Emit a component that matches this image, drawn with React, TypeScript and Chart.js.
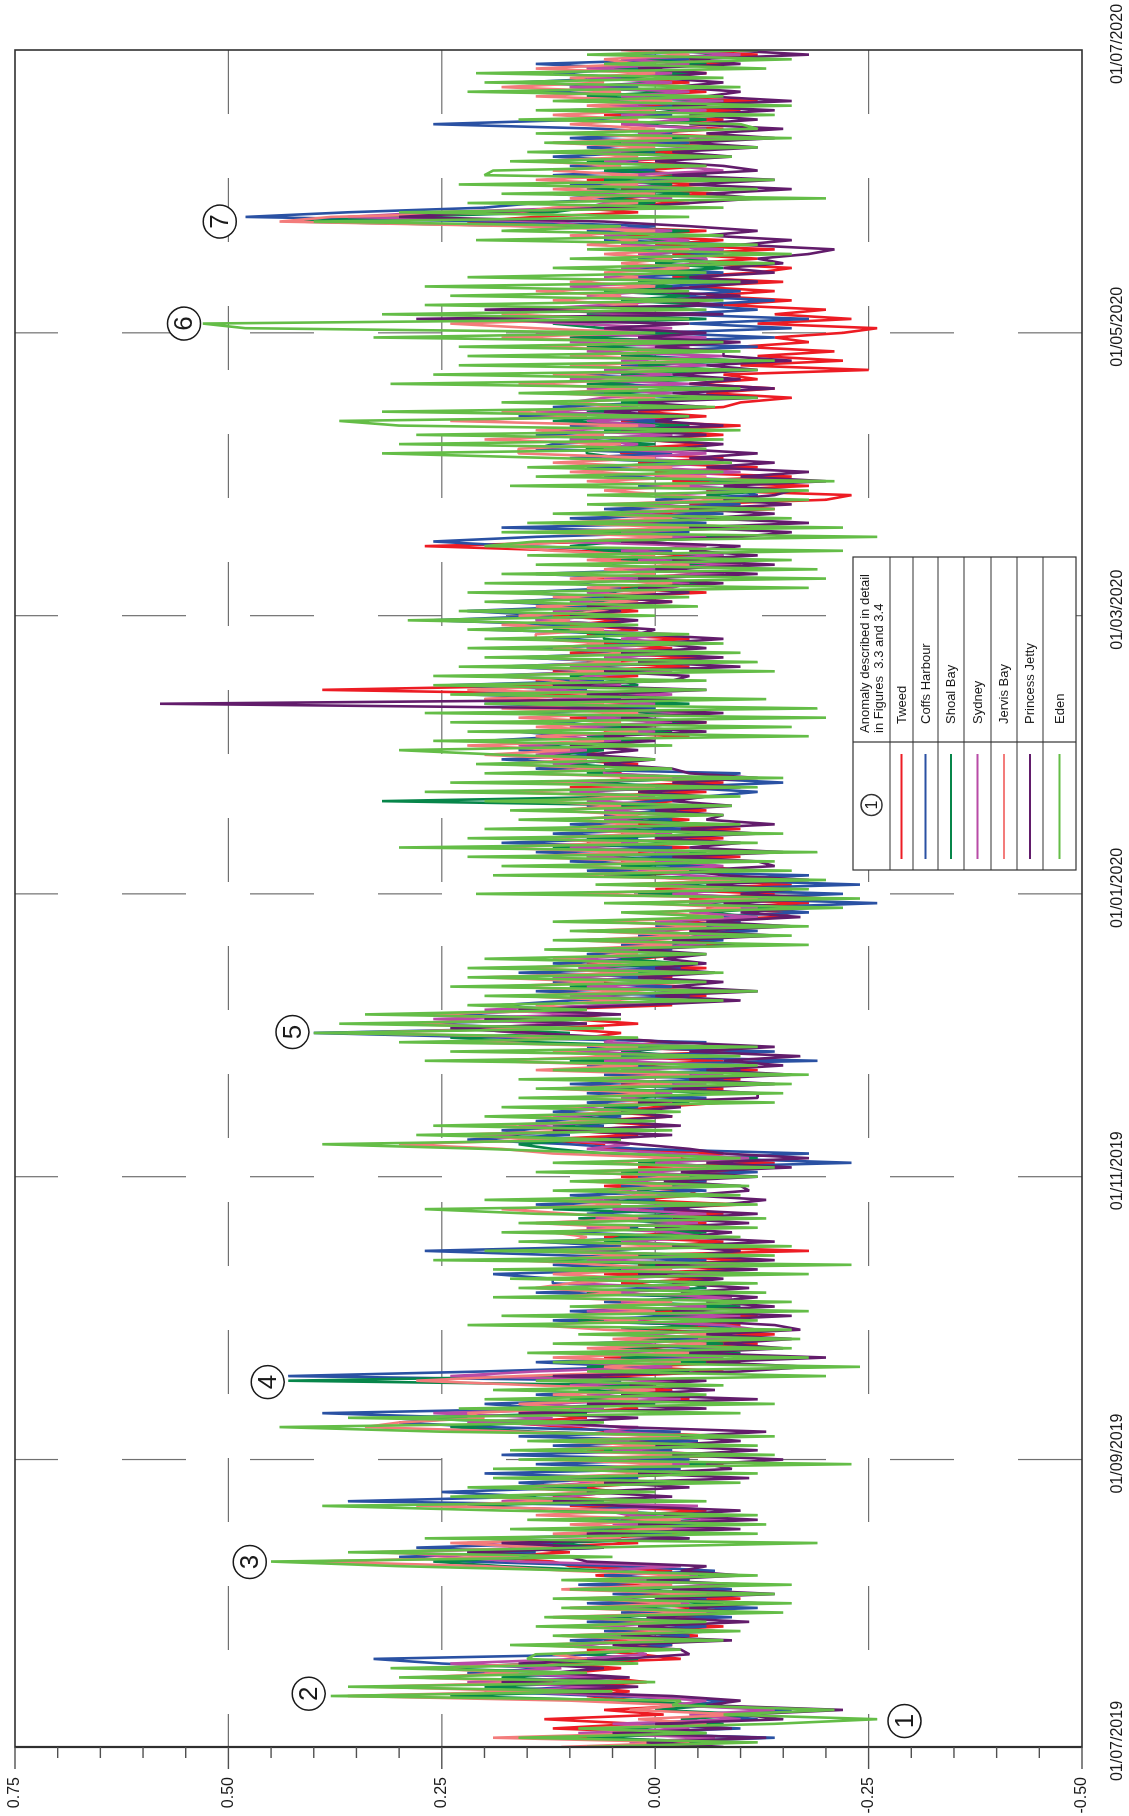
import React, { useEffect, useRef } from 'react';
import { Chart, registerables } from 'chart.js';

Chart.register(...registerables);

const FONT = "'Liberation Sans', Arial, Helvetica, sans-serif";

// x axis: days since 01/07/2019
const dateTickDays = [0, 62, 123, 184, 244, 305, 366];
const dateTickLabels = ['01/07/2019', '01/09/2019', '01/11/2019', '01/01/2020', '01/03/2020', '01/05/2020', '01/07/2020'];
const gridDays = [62, 123, 184, 244, 305];

// y axis: sea level anomaly in cm, labelled in metres
const valueTicks = [75, 50, 25, 0, -25, -50];
const valueTickLabels = ['0.75', '0.50', '0.25', '0.00', '-0.25', '-0.50'];
const gridValues = [50, 25, 0, -25];

const seriesNames = ['Tweed', 'Coffs Harbour', 'Shoal Bay', 'Sydney', 'Jervis Bay', 'Princess Jetty', 'Eden'];
const seriesColors = ['#ed1c24', '#2a51a3', '#07864a', '#b84ba6', '#f37c7b', '#621c6b', '#64bd47'];

// daily values (cm), day 0 .. 366
const tweed = [
  4,-8,10,-3,12,2,13,-1,6,-5, 2,8,3,9,1,6,10,4,12,-3, 2,8,-2,6,-5,3,-8,5,-6,2, -6,4,-10,3,-8,5,-4,7,-2,10,
  12,20,10,16,2,8,-4,6,-6,4, 3,-6,10,2,12,4,9,0,6,-4, 6,-8,4,-10,8,-6,3,-9,5,10, 18,8,14,2,6,-4,4,-2,6,10,
  4,-8,2,-10,6,-6,3,-12,0,-14, 2,-10,6,-12,1,-8,4,-6,6,-4, 4,-6,6,-10,2,-12,5,-18,0,-8, 6,-4,8,-6,4,-8,2,-10,3,-5,
  -4,6,-6,4,-10,2,-14,0,-8,6, 6,14,2,10,-1,8,-2,6,0,-8, -4,6,-8,4,-10,2,-12,4,-8,6, -10,6,-2,8,4,12,2,10,6,14,
  -2,8,-6,6,-4,10,-2,4,-6,8, 2,-4,6,-10,4,-8,2,-12,-2,-14, -16,-6,-18,-4,-14,0,-16,-6,4,-10, -6,4,-10,6,-4,8,-8,4,-10,2,
  -4,6,-6,4,-2,8,-6,10,-8,4, 4,10,2,12,6,10,2,8,-4,6, 4,-6,10,-4,14,-2,20,6,39,10, 14,2,12,-4,8,-6,10,-2,6,-4,
  8,2,10,4,12,2,8,-2,6,-6, 6,-6,8,-8,4,-10,6,-6,10,27, 6,-8,10,-12,4,-10,2,-14,-4,-20, -23,-6,-18,-2,-16,0,-12,2,-8,4,
  4,-6,2,-8,0,-10,4,-6,2,-8, -10,-16,-6,-14,-4,-12,-8,-25,-10,-22, -12,-21,-10,-18,-14,-22,-26,-12,-23,-14, -20,-8,-16,-6,-14,-4,-15,-2,-12,-16,
  -4,-12,-2,-14,0,-8,4,-6,10,22, 14,2,10,-4,6,-8,4,-6,8,-4, 2,-6,6,-8,0,-10,4,-12,2,-8, 4,-8,6,-10,2,-12,4,-6,8,-4,
  6,-6,8,-8,0,-12,-2,
];
const coffsHarbour = [
  -6,
  2,-14,6,-10,3,-12,-6,-16,-3,-9, 6,20,9,14,7,22,12,25,33,6, 5,-2,10,-4,6,-6,8,-9,4,-12, 8,-6,5,-9,9,-4,6,-7,4,22,
  30,14,28,10,20,-2,10,-6,9,-8, 12,-2,36,14,25,8,16,2,20,-3, 14,-4,18,-2,12,-5,16,-3,20,30, 22,39,12,20,4,14,2,12,4,43,
  20,2,14,-4,10,-8,8,-5,4,-10, -6,12,-4,10,-9,6,-7,14,-2,12, 12,19,0,12,-6,10,27,4,14,-4, 10,2,12,-2,8,-4,14,0,10,-6,
  4,-6,2,-12,-2,-23,-6,-18,2,10, 22,10,18,6,14,4,12,2,8,-6, 8,-6,10,-8,6,-10,8,-19,4,-14, 8,-6,18,40,14,28,10,24,12,18,
  10,-4,14,-2,12,0,16,-3,12,2, 8,-2,4,-8,2,-12,0,-10,-4,-18, -10,-26,-8,-22,-4,-24,-6,-18,8,-6, 10,-4,14,-2,18,2,12,-4,10,-2,
  6,-2,8,0,-6,-12,-2,-15,-4,-10, 14,8,18,6,16,12,20,10,16,4, 12,2,16,0,20,4,22,8,24,6, 20,6,18,4,16,2,14,0,12,2,
  20,10,26,12,22,8,18,6,16,4, 10,0,14,-2,8,-4,10,-2,16,26, 14,-4,18,-6,10,-8,6,-10,0,-12, -10,2,-12,6,-8,8,-4,10,-2,14,
  12,2,14,0,10,-2,16,4,12,0, -4,8,-8,6,-2,10,-6,4,-10,2, 2,-12,6,-14,0,-16,-4,-18,-2,-12, -4,-14,-2,-10,0,-12,4,-8,2,-10,
  2,-8,4,-10,6,-4,8,0,18,48, 36,20,14,4,12,-2,10,-4,12,0, 10,2,12,0,8,-4,10,-2,6,26, 8,-2,10,-6,8,-4,14,2,16,4,
  12,2,14,-4,4,-10,
];
const shoalBay = [
  5,-9,8,-6,4,-8,-3,-12,0,-7, 4,24,8,20,6,18,10,26,14,2, 8,1,12,-2,7,-5,9,-3,6,-8, 3,-8,6,-5,2,-10,4,-6,5,18,
  26,12,22,6,12,-4,6,-8,4,-5, -4,8,22,6,18,3,14,-2,10,-6, 8,-6,10,-7,6,-8,9,-4,14,24, 15,30,8,18,0,10,-2,9,2,43,
  10,-4,8,-6,4,-10,6,-8,2,-9, 4,-5,9,-6,5,-10,3,-5,8,-6, -4,8,-8,10,-4,14,-2,8,-6,6, 4,-6,6,-3,9,-5,12,-4,6,2,
  2,-4,6,-8,4,-10,2,-12,6,12, 16,8,20,4,12,2,10,0,6,-4, 4,-8,6,-4,8,-6,4,-8,10,-4, 4,-4,14,24,10,22,8,20,6,16,
  6,-2,8,-5,10,-2,12,0,8,-3, 4,-4,8,-6,6,-10,4,-8,0,-12, -6,-14,-4,-16,2,-12,-2,-14,6,-8, 4,-8,8,-6,12,-4,8,-8,6,-6,
  4,-4,6,-2,32,2,10,-4,8,-6, 8,2,10,4,12,6,14,2,8,-2, 6,-4,8,-2,10,-4,12,0,14,2, 4,10,0,8,-4,6,-2,8,0,6,
  6,12,4,14,6,10,2,8,0,6, 2,-6,4,-8,2,-6,4,-8,6,10, 4,-10,8,-8,6,-6,4,-8,2,-10, -6,-14,-2,-10,0,-6,2,-4,4,8,
  8,0,10,-2,6,-4,12,2,8,-2, 4,-6,6,-4,8,-6,4,-8,2,-10, 4,-6,8,-8,10,-4,6,12,-6,8, 2,-6,4,-4,6,-2,2,-6,0,-8,
  0,-6,2,-8,4,-2,6,-4,14,42, 30,12,8,0,6,-4,8,-2,6,-6, 6,-2,8,-4,4,-6,6,-4,2,-6, 2,-6,4,-4,6,-8,8,-2,10,0,
  4,-4,6,-6,2,-8,-2,
];
const sydney = [
  -6,
  3,-7,9,-4,5,-10,-4,-14,-2,-6, 3,18,6,22,5,20,11,24,9,1, 3,10,-3,8,-6,7,-4,10,-8,5, -4,6,-7,5,-9,4,-5,7,-3,16,
  24,30,14,22,4,10,-6,5,-9,3, 6,-5,18,10,5,16,7,12,-2,8, -4,7,-8,5,-6,8,-7,6,2,22, 12,26,6,14,-3,8,0,10,-3,24,
  14,-2,10,-8,7,-12,5,-10,3,-12, -8,6,-10,8,-6,4,-9,6,-4,10, 6,-8,4,-10,8,-6,12,-8,4,-6, -2,8,-5,7,-6,5,-3,10,-4,6,
  -6,4,-8,2,-9,0,-11,-2,8,3, 12,20,6,16,3,12,1,10,-1,4, -2,8,-6,6,-8,4,-10,6,-6,10, -6,6,4,16,22,10,26,8,20,6,
  -4,10,-6,8,-3,12,-4,9,0,10, -3,6,-6,4,-8,2,-10,0,-12,-4, -12,-4,-14,-2,-10,0,-12,-4,2,-8, -2,8,-4,10,2,14,-2,8,-4,6,
  -3,6,-4,8,0,10,-2,12,-6,6, 6,12,4,14,8,16,4,12,0,10, -2,8,-6,10,0,12,-2,14,4,10, 8,-2,10,-4,6,-6,8,-3,4,-2,
  10,4,14,6,12,2,10,0,8,-2, -4,6,-8,4,-10,2,-8,4,-6,12, -6,4,-10,6,-8,4,-10,2,-12,0, -12,-2,-14,0,-10,2,-8,4,-6,6,
  2,10,-2,12,0,8,-2,14,2,10, 6,-2,8,-4,10,-2,6,-6,4,-8, 8,-4,10,-6,14,-2,10,20,0,16, 6,-2,8,0,10,-4,6,-2,4,-6,
  -6,2,-8,4,-4,6,-2,8,12,36, 26,8,6,-2,8,-6,6,-4,4,-8, -2,6,-4,8,-6,4,-8,2,-6,4, -4,4,-6,6,-8,4,-4,10,-2,8,
  -2,8,-4,4,-10,0,
];
const jervisBay = [
  11,-4,19,0,8,-6,2,-10,3,-3, 10,36,14,33,12,28,16,27,13,8, 12,2,14,-1,11,-3,10,-2,12,-6, 10,-3,9,-6,11,-2,8,-4,10,20,
  40,16,33,12,24,4,12,-2,10,-3, 14,2,28,12,20,6,18,3,15,0, 10,-2,13,-4,14,0,12,-3,16,34, 30,20,22,10,16,2,12,0,14,28,
  16,0,6,-3,12,-4,8,-6,5,-8, 6,14,2,12,0,8,-2,12,4,14, 10,2,12,-2,6,16,2,14,-2,10, 8,12,3,14,2,10,18,4,12,0,
  6,-2,8,-4,10,-6,6,-3,12,18, 30,12,24,8,20,6,15,4,12,-2, 10,0,12,-2,10,-4,14,2,20,4, 12,2,22,10,36,14,30,12,28,8,
  14,4,16,2,18,6,20,2,16,4, 12,2,10,-2,9,-4,8,-6,6,-8, 0,-10,2,-12,10,-8,4,-10,12,-4, 10,0,16,2,20,4,14,0,12,2,
  10,2,12,4,14,2,18,0,14,-2, 16,6,18,8,20,10,22,6,14,2, 14,4,16,2,18,6,20,4,22,8, 12,18,6,16,4,14,2,12,6,14,
  14,6,18,10,16,4,14,2,12,0, 8,-2,10,0,6,-4,8,0,12,18, 10,-2,14,-4,12,-2,8,-6,6,-8, -2,6,-4,8,-6,10,-2,12,0,16,
  16,4,20,6,14,2,24,8,18,4, 10,0,12,2,16,0,12,-4,10,-6, 10,-2,14,0,18,2,14,24,4,18, 10,2,12,4,14,0,10,2,6,-4,
  4,-2,6,-4,8,2,10,0,16,44, 38,16,12,2,10,0,12,2,14,2, 12,4,14,2,10,0,12,-2,10,0, 10,2,12,0,8,-2,14,4,18,6,
  10,0,14,2,6,-4,4,
];
const princessJetty = [
  -8,
  1,-13,5,-9,0,-15,-10,-22,-6,-10, -2,14,2,18,3,12,6,16,4,-4, -3,5,-9,4,-7,2,-11,1,-10,-4, -12,0,-14,-2,-11,1,-10,-3,-6,8,
  10,22,6,18,-4,8,-10,2,-12,-1, -10,4,12,-2,8,-4,6,-11,2,-9, -6,-15,-2,-12,0,-10,-3,-13,4,12, 2,16,-6,8,-12,4,-7,3,-6,12,
  -10,-18,-6,-20,-4,-15,-8,-16,-6,-17, -14,-4,-16,-2,-14,-6,-12,-3,-11,-2, -8,2,-12,0,-14,-4,-10,-2,-14,-3, -9,0,-11,-2,-12,-1,-8,-13,-4,-11,
  -10,-1,-12,-3,-16,-6,-18,-8,-4,2, 8,-2,12,-3,6,-2,4,-3,2,-12, -12,-2,-14,-4,-16,-6,-15,-8,-17,-4, -14,-2,6,14,24,8,20,4,16,2,
  -10,0,-12,-2,-8,2,-7,0,-6,-1, -6,2,-10,-2,-14,-4,-16,-6,-17,-10, -18,-8,-20,-10,-16,-6,-18,-8,-4,-14, -12,-2,-15,-4,-10,0,-12,-3,-14,-6,
  -8,0,-9,-2,-6,2,-10,-2,-12,-4, -2,6,0,8,2,10,0,6,-6,4, -6,4,-8,6,58,-4,8,-6,12,-2, -4,6,-10,2,-8,4,-6,0,-8,2,
  0,8,2,10,4,8,-2,6,-4,2, -8,2,-12,0,-14,-2,-12,-4,-10,4, -10,-16,-4,-18,-6,-14,-4,-16,-8,-14, -16,-8,-20,-10,-18,-6,-14,-4,-12,-2,
  -8,2,-6,4,-8,0,-4,6,-6,2, -12,-2,-14,-4,-10,-2,-12,-6,-16,-8, -8,0,-10,2,-6,6,-4,28,-8,20, -8,0,-10,2,-6,-12,-4,-14,-8,-15,
  -12,-18,-21,-10,-16,-6,-12,-4,6,30, 20,4,-4,-12,-6,-16,-4,-14,-2,-12, -8,0,-9,-2,-12,-4,-14,-6,-15,-4, -12,-4,-14,-2,-16,-6,-10,-2,-8,0,
  -6,2,-10,-4,-18,-8,
];
const eden = [
  8,-12,16,-6,9,-14,-26,-8,-21,-2, -3,38,5,36,0,30,8,31,2,15, 14,-3,17,-8,12,-10,14,-6,13,-15, 11,-16,12,-14,10,-16,11,-12,8,30,
  45,5,36,8,-19,27,-12,17,-13,15, -12,18,39,-6,24,0,22,-10,19,-12, 19,-23,16,-14,17,-12,15,-14,25,44, 6,36,-10,23,-14,20,-6,19,-8,14,
  -20,8,-24,12,-18,15,-16,12,-17,9, -16,22,-12,18,-18,10,-16,19,-13,16, -12,17,-18,19,-23,26,-14,20,-16,16, -10,18,-12,16,-13,14,27,-12,20,-10,
  12,-11,10,-12,14,-14,12,-10,4,20, 39,4,28,-2,26,0,20,-3,18,-14, 16,-15,14,-16,16,-18,12,-12,27,-10, 24,-12,30,2,40,6,37,4,34,8,
  22,-8,20,-12,24,-6,22,-8,22,-5, 20,-6,13,-18,12,-16,10,-18,12,-8, 4,-22,6,-24,21,-18,7,-20,19,-16, 18,-14,22,-19,30,-12,22,-15,20,-10,
  16,-8,17,-9,20,-10,27,-12,24,-15, 20,-2,21,0,18,30,-2,26,-18,22, -16,24,-20,27,-19,20,-13,24,-6,26, -6,26,-14,23,-12,20,-10,22,-8,20,
  -4,22,2,29,0,23,-5,20,-4,22, -18,20,-20,18,-19,14,-16,15,-22,20, 14,-26,18,-22,15,-16,12,-14,8,-18, 8,-18,17,-21,14,-8,15,-9,12,32,
  -6,30,-8,28,-10,30,37,-4,32,-7, 18,-12,16,-10,31,-8,26,-12,23,-14, 22,-10,23,-8,33,0,48,53,-4,32, -6,27,-8,24,-4,27,-10,22,-6,12,
  -14,10,-16,8,-12,21,-8,18,4,40, -4,30,-8,22,-20,18,-12,23,-14,20, 19,-6,17,-9,15,-12,13,-16,14,-12, -10,16,-14,14,-16,12,-8,22,-10,20,
  -8,21,-13,6,-16,8,-12,
];
const seriesValues = [tweed, coffsHarbour, shoalBay, sydney, jervisBay, princessJetty, eden];

// circled anomaly markers (day, cm)
const anomalyDays = [5.6, 11.5, 39.9, 78.7, 154.2, 307, 329];
const anomalyValues = [-29.2, 40.6, 47.5, 45.4, 42.5, 55.2, 51];
const anomalyLabels = ['1', '2', '3', '4', '5', '6', '7'];

const legendHeader = ['Anomaly described in detail', 'in Figures  3.3 and 3.4'];

const overlayPlugin = {
  id: 'overlay',
  beforeDatasetsDraw(chart: any) {
    const { ctx, chartArea: a, scales } = chart;
    const xs = scales.x, ys = scales.y;
    ctx.save();
    ctx.strokeStyle = '#707070';
    ctx.lineWidth = 1.2;
    ctx.setLineDash([64, 64]);
    gridValues.forEach((v) => {
      const py = ys.getPixelForValue(v);
      ctx.beginPath(); ctx.moveTo(a.right, py); ctx.lineTo(a.left, py); ctx.stroke();
    });
    gridDays.forEach((d) => {
      const px = xs.getPixelForValue(d);
      ctx.beginPath(); ctx.moveTo(px, a.bottom); ctx.lineTo(px, a.top); ctx.stroke();
    });
    ctx.restore();
  },
  afterDatasetsDraw(chart: any) {
    const { ctx, chartArea: a, scales } = chart;
    const xs = scales.x, ys = scales.y;
    ctx.save();
    ctx.setLineDash([]);
    // frame
    ctx.strokeStyle = '#303030';
    ctx.lineWidth = 1.6;
    ctx.strokeRect(a.left, a.top, a.right - a.left, a.bottom - a.top);
    ctx.lineWidth = 2.2;
    ctx.beginPath(); ctx.moveTo(a.left, a.top); ctx.lineTo(a.left, a.bottom); ctx.stroke();
    // value ticks
    ctx.strokeStyle = '#505050';
    ctx.lineWidth = 1.4;
    for (let v = -50; v <= 75; v += 5) {
      const py = ys.getPixelForValue(v);
      const len = v % 25 === 0 ? 22 : 11;
      ctx.beginPath(); ctx.moveTo(a.left, py); ctx.lineTo(a.left - len, py); ctx.stroke();
    }
    // anomaly markers
    ctx.strokeStyle = '#1a1a1a';
    ctx.lineWidth = 1.5;
    ctx.textAlign = 'center';
    ctx.textBaseline = 'middle';
    ctx.font = `26px ${FONT}`;
    anomalyDays.forEach((d, i) => {
      const cx = xs.getPixelForValue(d);
      const cy = ys.getPixelForValue(anomalyValues[i]);
      ctx.fillStyle = '#ffffff';
      ctx.beginPath(); ctx.arc(cx, cy, 16.5, 0, Math.PI * 2); ctx.fill(); ctx.stroke();
      ctx.fillStyle = '#1a1a1a';
      ctx.fillText(anomalyLabels[i], cx, cy + 1);
    });
    // legend table
    const X0 = 946, X1 = 1259, XS = 1074;
    const rows = [853, 890, 913, 938, 964, 991, 1017, 1043, 1076];
    ctx.fillStyle = '#ffffff';
    ctx.fillRect(X0, rows[0], X1 - X0, rows[rows.length - 1] - rows[0]);
    ctx.strokeStyle = '#333333';
    ctx.lineWidth = 1.2;
    ctx.strokeRect(X0, rows[0], X1 - X0, rows[rows.length - 1] - rows[0]);
    ctx.beginPath(); ctx.moveTo(XS, rows[0]); ctx.lineTo(XS, rows[rows.length - 1]); ctx.stroke();
    for (let r = 1; r < rows.length - 1; r++) {
      ctx.beginPath(); ctx.moveTo(X0, rows[r]); ctx.lineTo(X1, rows[r]); ctx.stroke();
    }
    // header
    const hy = (rows[0] + rows[1]) / 2;
    ctx.lineWidth = 1.4;
    ctx.beginPath(); ctx.arc(1011, hy, 10.5, 0, Math.PI * 2); ctx.stroke();
    ctx.fillStyle = '#1a1a1a';
    ctx.textAlign = 'center';
    ctx.font = `16px ${FONT}`;
    ctx.fillText(anomalyLabels[0], 1011, hy + 1);
    ctx.textAlign = 'left';
    ctx.font = `13px ${FONT}`;
    ctx.fillText(legendHeader[0], 1083, hy - 6.5);
    ctx.fillText(legendHeader[1], 1083, hy + 8);
    // series rows
    seriesNames.forEach((name, i) => {
      const cy = (rows[i + 1] + rows[i + 2]) / 2;
      ctx.strokeStyle = seriesColors[i];
      ctx.lineWidth = 2;
      ctx.beginPath(); ctx.moveTo(957, cy); ctx.lineTo(1062, cy); ctx.stroke();
      ctx.fillStyle = '#1a1a1a';
      ctx.fillText(name, 1092, cy + 0.5);
    });
    ctx.restore();
  },
};

export default function App() {
  const ref = useRef<HTMLCanvasElement>(null);
  useEffect(() => {
    const canvas = ref.current as HTMLCanvasElement;
    const datasets = seriesValues.map((vals, i) => ({
      label: seriesNames[i],
      data: vals.map((v, d) => ({ x: d, y: v })),
      borderColor: seriesColors[i],
      backgroundColor: seriesColors[i],
      borderWidth: 2.6,
      borderJoinStyle: 'bevel' as const,
      pointRadius: 0,
      tension: 0,
      fill: false,
      order: seriesValues.length - 1 - i,
    }));
    const chart = new Chart(canvas, {
      type: 'line',
      data: { datasets },
      options: {
        responsive: false,
        animation: false,
        devicePixelRatio: 1,
        events: [],
        layout: { padding: { top: 15, right: 50, bottom: 0, left: 0 } },
        plugins: { legend: { display: false }, tooltip: { enabled: false } },
        scales: {
          x: {
            type: 'linear',
            min: 0,
            max: 366,
            grid: { display: false, drawTicks: false },
            border: { display: false },
            afterBuildTicks: (s: any) => { s.ticks = dateTickDays.map((v) => ({ value: v })); },
            afterFit: (s: any) => { s.height = 47; s.paddingLeft = 0; s.paddingRight = 0; s.paddingTop = 0; s.paddingBottom = 0; },
            ticks: {
              autoSkip: false,
              maxRotation: 0,
              minRotation: 0,
              padding: 26,
              labelOffset: 6,
              color: '#1a1a1a',
              font: { family: FONT, size: 16 },
              callback: (v: any) => {
                const i = dateTickDays.indexOf(Number(v));
                return i >= 0 ? dateTickLabels[i] : '';
              },
            },
          },
          y: {
            type: 'linear',
            min: -50,
            max: 75,
            grid: { display: false, drawTicks: false },
            border: { display: false },
            afterBuildTicks: (s: any) => { s.ticks = valueTicks.map((v) => ({ value: v })); },
            afterFit: (s: any) => { s.width = 69; s.paddingLeft = 0; s.paddingRight = 0; s.paddingTop = 0; s.paddingBottom = 0; },
            ticks: {
              autoSkip: false,
              padding: 30,
              color: '#1a1a1a',
              font: { family: FONT, size: 16 },
              callback: (v: any) => {
                const i = valueTicks.indexOf(Number(v));
                return i >= 0 ? valueTickLabels[i] : '';
              },
            },
          },
        },
      },
      plugins: [overlayPlugin],
    });
    return () => chart.destroy();
  }, []);
  return (
    <div style={{ position: 'absolute', left: 0, top: 0, width: 1129, height: 1816, overflow: 'hidden', background: '#ffffff' }}>
      <canvas
        ref={ref}
        width={1816}
        height={1129}
        style={{
          position: 'absolute',
          left: 0,
          top: 0,
          width: 1816,
          height: 1129,
          transformOrigin: '0 0',
          transform: 'translate(0px, 1816px) rotate(-90deg)',
        }}
      />
    </div>
  );
}
